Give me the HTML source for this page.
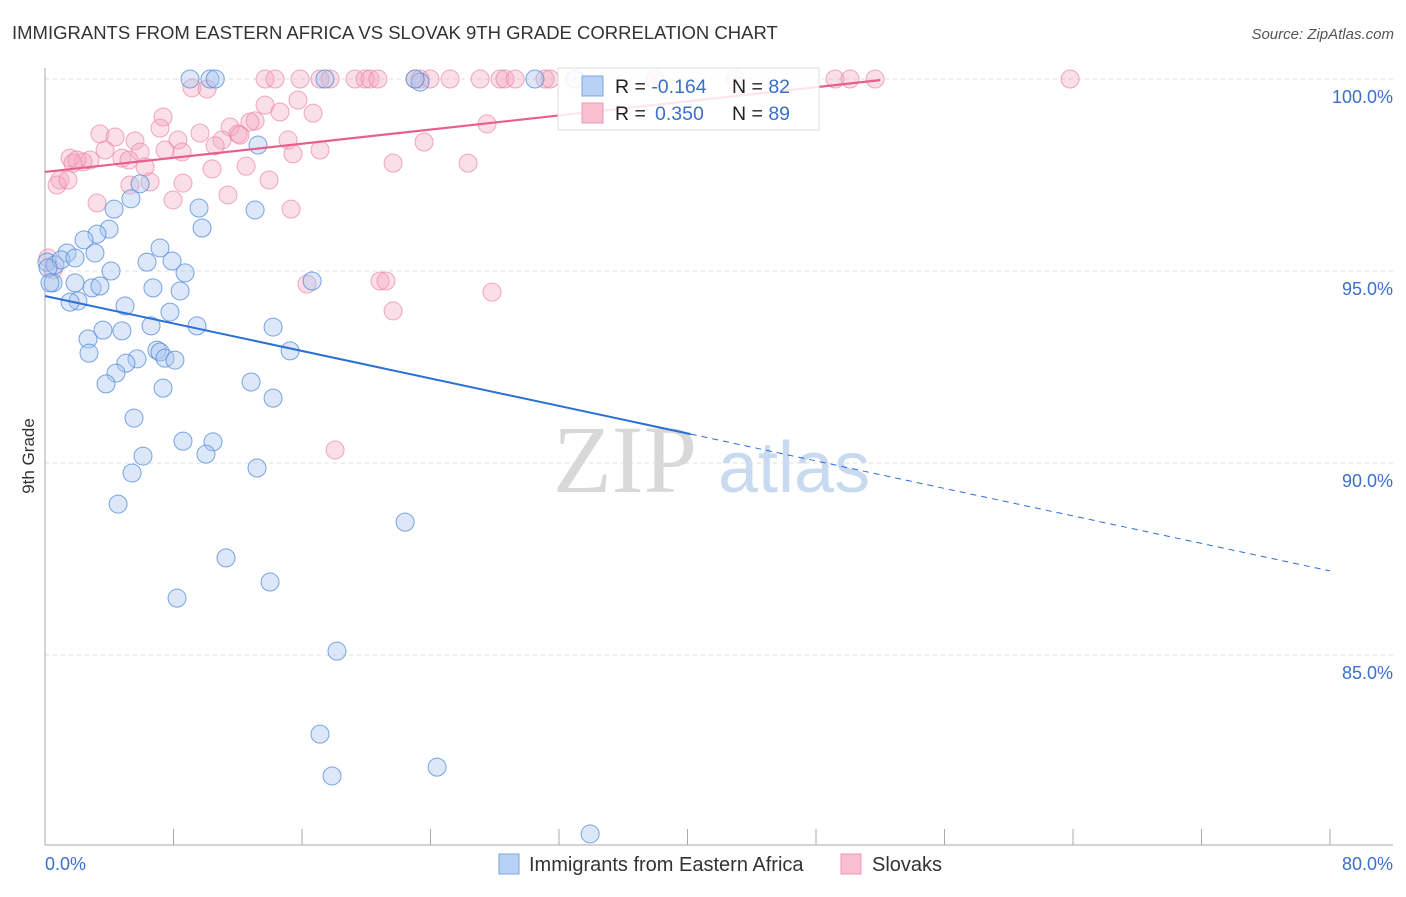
<!DOCTYPE html>
<html><head><meta charset="utf-8"><style>
body{margin:0;background:#fff;font-family:"Liberation Sans",sans-serif}
</style></head><body>
<svg width="1406" height="892" xmlns="http://www.w3.org/2000/svg" id="chart">
<text x="12" y="39" font-size="18.5" fill="#333">IMMIGRANTS FROM EASTERN AFRICA VS SLOVAK 9TH GRADE CORRELATION CHART</text>
<text x="1394" y="39" font-size="15" fill="#555" font-style="italic" text-anchor="end">Source: ZipAtlas.com</text>
<g>
<text x="553" y="492" font-size="96" font-family="Liberation Serif,serif" fill="#d8d8d8">ZIP</text>
<text x="718" y="492" font-size="72" fill="#c8daf0">atlas</text>
</g>
<g id="grid"></g>
<line x1="45" y1="68" x2="45" y2="845" stroke="#aaa"/>
<line x1="45" y1="845" x2="1393" y2="845" stroke="#aaa"/>
<g id="xticks"></g>
<text x="45" y="870" font-size="18" fill="#3a70c8">0.0%</text>
<text x="1393" y="870" font-size="18" fill="#3a70c8" text-anchor="end">80.0%</text>
<text transform="translate(34,456) rotate(-90)" font-size="17" fill="#333" text-anchor="middle">9th Grade</text>
<g id="pts"></g>
<g id="lines"></g>
<g>
<rect x="558" y="68" width="261" height="62" fill="#fff" fill-opacity="0.85" stroke="#ddd"/>
<rect x="582" y="76" width="21" height="20" fill="#b8d2f5" stroke="#7aa6e0"/>
<rect x="582" y="103" width="21" height="20" fill="#f9bfd0" stroke="#ef9ab5"/>
<text x="615" y="93" font-size="19.5" fill="#222">R = <tspan fill="#3a70c8">-0.164</tspan><tspan x="732">N = </tspan><tspan fill="#3a70c8">82</tspan></text>
<text x="615" y="120" font-size="19.5" fill="#222">R = <tspan x="655" fill="#3a70c8">0.350</tspan><tspan x="732">N = </tspan><tspan fill="#3a70c8">89</tspan></text>
</g>
<g>
<rect x="499" y="854" width="20" height="20" fill="#b8d2f5" stroke="#7aa6e0"/>
<text x="529" y="871" font-size="20" fill="#333">Immigrants from Eastern Africa</text>
<rect x="841" y="854" width="20" height="20" fill="#f9bfd0" stroke="#ef9ab5"/>
<text x="872" y="871" font-size="20" fill="#333">Slovaks</text>
</g>
</svg>
<script>
const yTicks=[100,95,90,85];
const yTickLabels=["100.0%","95.0%","90.0%","85.0%"];
const xTicks=[0,8,16,24,32,40,48,56,64,72,80];
const blueX=[9.03,10.27,10.6,17.43,23.35,23.04,30.5,33.0,13.26,5.92,5.35,4.3,9.59,13.08,9.78,3.99,3.24,2.43,7.16,1.37,0.12,0.62,1.0,1.87,3.11,6.35,7.91,8.72,4.11,16.63,0.5,1.87,2.93,3.42,6.72,8.41,2.05,1.56,4.98,7.78,9.46,6.6,14.2,3.61,4.79,2.68,2.74,6.97,7.16,7.47,8.09,5.73,5.04,15.26,4.42,3.8,12.83,7.35,14.2,5.54,8.59,10.46,10.02,6.1,13.2,5.42,4.55,22.42,11.27,14.01,8.22,18.18,17.12,17.87,24.41,33.94,0.19,0.31];
const blueY=[100,100,100,100,99.92,100,100,100,98.28,97.27,96.88,96.61,96.64,96.59,96.12,96.09,95.96,95.81,95.6,95.47,95.23,95.16,95.29,95.34,95.47,95.23,95.26,94.95,95.0,94.74,94.69,94.69,94.56,94.61,94.56,94.48,94.22,94.19,94.09,93.93,93.57,93.57,93.54,93.46,93.44,93.23,92.86,92.94,92.89,92.73,92.68,92.71,92.6,92.92,92.34,92.06,92.11,91.95,91.69,91.17,90.57,90.55,90.23,90.18,89.87,89.74,88.93,88.46,87.53,86.9,86.48,85.1,82.94,81.85,82.08,80.34,95.08,94.69];
const pinkX=[13.7,14.32,15.88,17.12,17.75,19.3,19.93,20.24,20.73,23.04,23.35,23.97,25.22,27.09,28.33,28.64,29.27,31.13,31.44,37.98,42.96,49.19,50.12,51.68,63.82,9.15,10.09,7.35,15.75,13.7,14.63,16.69,11.52,12.02,13.08,12.76,7.16,3.42,4.36,9.65,11.02,8.28,15.13,27.52,23.6,3.74,5.6,7.47,5.92,8.53,10.59,12.14,17.12,15.44,4.79,5.23,2.8,2.37,1.56,1.74,1.99,0.93,0.75,1.43,21.67,26.34,10.4,6.23,12.52,6.54,5.29,8.59,13.95,11.39,3.24,7.97,15.32,0.19,16.31,20.86,21.23,27.83,21.67,18.06,0.5];
const pinkY=[100,100,100,100,100,100,100,100,100,100,100,100,100,100,100,100,100,100,100,100,100,100,100,100,100,99.77,99.74,99.01,99.45,99.32,99.14,99.11,98.75,98.57,98.91,98.88,98.72,98.57,98.49,98.59,98.41,98.41,98.41,98.83,98.36,98.15,98.39,98.15,98.1,98.1,98.26,98.54,98.15,98.05,97.94,97.89,97.89,97.84,97.94,97.81,97.89,97.37,97.24,97.37,97.81,97.81,97.66,97.71,97.73,97.32,97.24,97.29,97.37,96.98,96.77,96.85,96.61,95.34,94.66,94.74,94.74,94.45,93.96,90.34,95.03];
const blueTrend=[94.35,87.19];
const blueSolidEnd=40.2;
const pinkTrend=[97.58,99.97,52];
const NS='http://www.w3.org/2000/svg';
const sx=v=>45+v*(1285/80);
const sy=v=>79+(100-v)*38.4;
function mk(tag,attrs,parent){const e=document.createElementNS(NS,tag);for(const k in attrs)e.setAttribute(k,attrs[k]);document.getElementById(parent).appendChild(e);return e;}
yTicks.forEach((t,i)=>{
  const l=mk('line',{x1:45,x2:1393,y1:sy(t),y2:sy(t),stroke:'#ddd','stroke-dasharray':'4,4'},'grid');
  
  
  const tx=mk('text',{x:1393,y:sy(t)+24,'font-size':18,fill:'#3a70c8','text-anchor':'end'},'grid');
  tx.textContent=yTickLabels[i];
  
  
});
xTicks.forEach(t=>{
  const l=mk('line',{x1:sx(t),x2:sx(t),y1:829,y2:845,stroke:'#aaa'},'xticks');
  
  
});
pinkX.forEach((x,i)=>{
  const c=mk('circle',{cx:sx(x),cy:sy(pinkY[i]),r:9,fill:'#f4a3bc','fill-opacity':0.35,stroke:'#ea85a5','stroke-opacity':0.7},'pts');
  
  
});
blueX.forEach((x,i)=>{
  const c=mk('circle',{cx:sx(x),cy:sy(blueY[i]),r:9,fill:'#a8c6f0','fill-opacity':0.4,stroke:'#4f88d8','stroke-opacity':0.75},'pts');
  
  
});
const by=x=>blueTrend[0]+(blueTrend[1]-blueTrend[0])*x/80;
const b1=mk('line',{x1:sx(0),y1:sy(by(0)),x2:sx(blueSolidEnd),y2:sy(by(blueSolidEnd)),stroke:'#2a6fd6','stroke-width':2},'lines');


const b2=mk('line',{x1:sx(blueSolidEnd),y1:sy(by(blueSolidEnd)),x2:sx(80),y2:sy(by(80)),stroke:'#2a6fd6','stroke-width':1,'stroke-dasharray':'6,5'},'lines');


const p1=mk('line',{x1:sx(0),y1:sy(pinkTrend[0]),x2:sx(pinkTrend[2]),y2:sy(pinkTrend[1]),stroke:'#e8608a','stroke-width':2.2},'lines');


</script>
</body></html>
